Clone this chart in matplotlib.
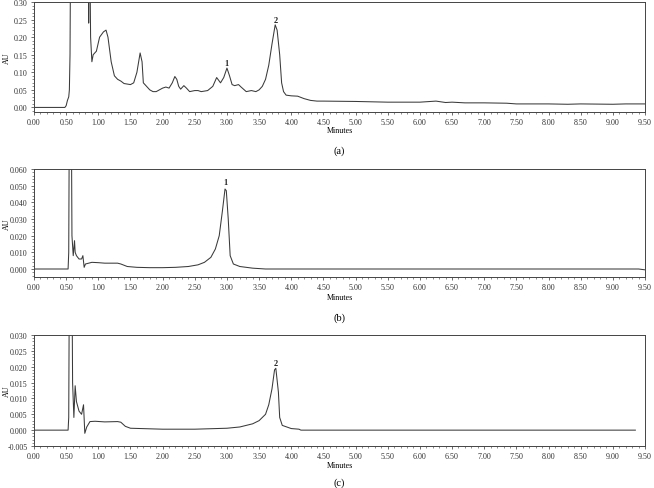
import matplotlib
matplotlib.use("Agg")
import matplotlib.pyplot as plt
from matplotlib.ticker import MultipleLocator, FormatStrFormatter

plt.rcParams['font.family'] = ['Liberation Serif', 'DejaVu Serif']

# Panel (a): time (min) and absorbance (AU)
time_a = [0.0, 0.48, 0.50, 0.52, 0.54, 0.55, 0.56, 0.57, 0.84, 0.85, 0.86, 0.87, 0.88, 0.90,
          0.92, 0.97, 1.02, 1.08, 1.12, 1.15, 1.20, 1.25, 1.30, 1.35, 1.40, 1.50, 1.55,
          1.60, 1.65, 1.68, 1.70, 1.75, 1.80, 1.85, 1.90, 2.00, 2.05, 2.10, 2.15, 2.19,
          2.22, 2.25, 2.28, 2.33, 2.37, 2.42, 2.50, 2.55, 2.60, 2.70, 2.78, 2.84, 2.90,
          2.95, 3.00, 3.04, 3.08, 3.12, 3.18, 3.22, 3.30, 3.38, 3.45, 3.50, 3.55, 3.60,
          3.65, 3.70, 3.75, 3.78, 3.82, 3.85, 3.88, 3.92, 4.00, 4.10, 4.20, 4.30, 4.40,
          4.50, 5.00, 5.50, 6.00, 6.25, 6.40, 6.50, 6.70, 7.00, 7.35, 7.50, 8.00, 8.30,
          8.50, 9.00, 9.20, 9.50]
au_a = [0.000, 0.000, 0.005, 0.020, 0.030, 0.050, 0.150, 0.500, 0.500, 0.240, 0.500, 0.400, 0.200, 0.130,
        0.150, 0.160, 0.200, 0.215, 0.220, 0.200, 0.130, 0.090, 0.080, 0.075, 0.068, 0.065, 0.070,
        0.100, 0.155, 0.130, 0.070, 0.060, 0.050, 0.045, 0.045, 0.055, 0.058, 0.055, 0.070, 0.088,
        0.080, 0.060, 0.052, 0.062, 0.055, 0.045, 0.048, 0.048, 0.045, 0.048, 0.060, 0.085, 0.070,
        0.085, 0.112, 0.090, 0.065, 0.062, 0.065, 0.058, 0.045, 0.048, 0.045, 0.050, 0.060, 0.080,
        0.120, 0.180, 0.235, 0.220, 0.150, 0.070, 0.045, 0.035, 0.033, 0.032, 0.025, 0.020, 0.018,
        0.018, 0.017, 0.015, 0.015, 0.018, 0.014, 0.015, 0.013, 0.013, 0.012, 0.010, 0.010, 0.009,
        0.010, 0.009, 0.010, 0.010]

# Panel (b)
time_b = [0.0, 0.53, 0.54, 0.55, 0.58, 0.59, 0.61, 0.63, 0.64, 0.66, 0.70, 0.74, 0.76, 0.78,
          0.80, 0.85, 0.90, 1.00, 1.10, 1.20, 1.30, 1.35, 1.45, 1.60, 1.80, 2.00, 2.20, 2.40,
          2.55, 2.65, 2.75, 2.82, 2.88, 2.93, 2.97, 2.99, 3.02, 3.05, 3.10, 3.20, 3.40, 3.60,
          9.40, 9.50]
au_b = [0.000, 0.000, 0.010, 0.100, 0.100, 0.020, 0.008, 0.017, 0.010, 0.008, 0.006, 0.006, 0.008, 0.001,
        0.003, 0.0035, 0.004, 0.0038, 0.0035, 0.0035, 0.0035, 0.003, 0.0015, 0.001, 0.0008, 0.0008, 0.001, 0.0015,
        0.0025, 0.004, 0.007, 0.012, 0.020, 0.035, 0.048, 0.047, 0.030, 0.008, 0.003, 0.0015, 0.0005, 0.000,
        0.000, -0.0005]

# Panel (c)
time_c = [0.0, 0.53, 0.54, 0.55, 0.59, 0.60, 0.62, 0.64, 0.66, 0.70, 0.74, 0.77, 0.79, 0.82,
          0.87, 0.95, 1.10, 1.30, 1.35, 1.42, 1.50, 2.00, 2.50, 3.00, 3.20, 3.40, 3.50, 3.60,
          3.65, 3.70, 3.74, 3.76, 3.80, 3.82, 3.86, 4.00, 4.12, 4.15, 9.35]
au_c = [0.000, 0.000, 0.004, 0.050, 0.050, 0.015, 0.004, 0.014, 0.009, 0.006, 0.005, 0.008, -0.001, 0.001,
        0.0027, 0.0028, 0.0026, 0.0027, 0.0025, 0.0012, 0.0006, 0.0003, 0.0003, 0.0006, 0.001, 0.002, 0.003, 0.005,
        0.008, 0.013, 0.019, 0.0195, 0.012, 0.004, 0.0015, 0.0005, 0.0003, 0.000, 0.000]

peak_labels_a = [(3.0, 0.114, "1"), (3.76, 0.238, "2")]
peak_labels_b = [(2.98, 0.0495, "1")]
peak_labels_c = [(3.76, 0.0198, "2")]

x_ticks = [i * 0.5 for i in range(20)]

fig = plt.figure(figsize=(6.54, 4.89), dpi=100)
W, H = 654, 489
LEFT, RIGHT = 34, 645

def make_ax(top_px, bottom_px):
    return fig.add_axes([LEFT / W, 1 - bottom_px / H, (RIGHT - LEFT) / W, (bottom_px - top_px) / H])

panels = [
    (3, 113, time_a, au_a, (-0.013, 0.30), 0.05, 0.01, "%.2f", peak_labels_a, "(a)", 131, 151),
    (170, 278, time_b, au_b, (-0.0048, 0.060), 0.01, 0.002, "%.3f", peak_labels_b, "(b)", 298, 318),
    (336, 447, time_c, au_c, (-0.005, 0.030), 0.005, 0.001, "%.3f", peak_labels_c, "(c)", 466, 483),
]

for top, bot, t, y, ylim, ymaj, ymin, fmt, labels, tag, min_y, tag_y in panels:
    ax = make_ax(top, bot)
    ax.plot(t, y, color="#3a3a3a", lw=0.75)
    ax.set_xlim(0, 9.5)
    ax.set_ylim(*ylim)
    ax.set_xticks(x_ticks)
    ax.xaxis.set_major_formatter(FormatStrFormatter("%.2f"))
    ax.xaxis.set_minor_locator(MultipleLocator(0.1))
    ax.yaxis.set_major_locator(MultipleLocator(ymaj))
    ax.yaxis.set_minor_locator(MultipleLocator(ymin))
    ax.yaxis.set_major_formatter(FormatStrFormatter(fmt))
    ax.tick_params(axis="both", which="major", labelsize=5.8, length=2.5, width=0.5, pad=2,
                   colors="#333333")
    ax.tick_params(axis="both", which="minor", length=1.5, width=0.4, colors="#333333")
    for s in ax.spines.values():
        s.set_linewidth(0.7)
        s.set_color("#444444")
    ax.set_ylabel("AU", fontsize=5.8)
    ax.yaxis.set_label_coords((11 - LEFT) / (RIGHT - LEFT), 0.5)
    for xx, yy, txt in labels:
        ax.text(xx, yy, txt, ha="center", va="bottom", fontsize=6, fontweight="bold", color="#222222")
    fig.text((LEFT + RIGHT) / 2 / W, 1 - min_y / H, "Minutes", ha="center", va="center", fontsize=5.8)
    fig.text((LEFT + RIGHT) / 2 / W, 1 - tag_y / H, tag, ha="center", va="center", fontsize=7.5)

fig.savefig("out.png", dpi=100)
